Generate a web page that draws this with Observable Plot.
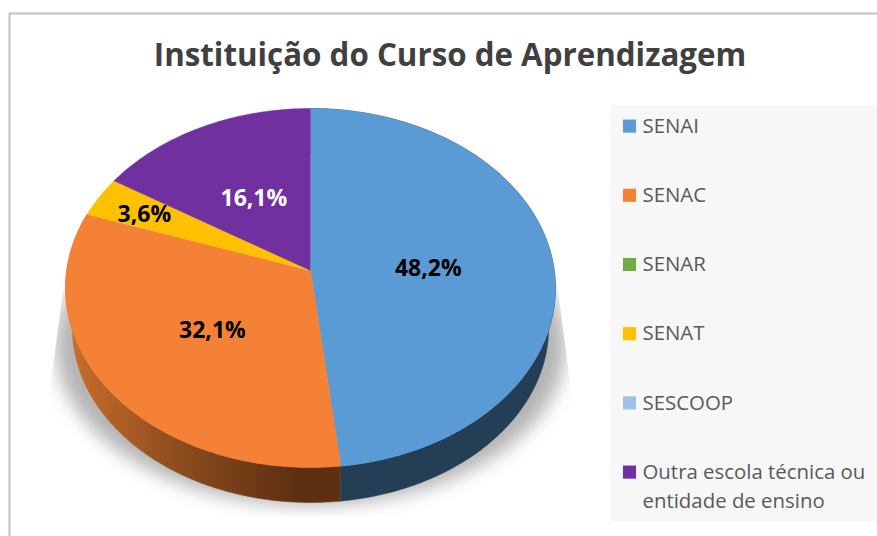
<!DOCTYPE html>
<html lang="pt">
<head>
<meta charset="utf-8">
<script src="https://cdn.jsdelivr.net/npm/d3@7"></script>
<script src="https://cdn.jsdelivr.net/npm/@observablehq/plot@0.6"></script>
<style>
html,body{margin:0;padding:0;background:#fff;overflow:hidden}
svg{display:block}
</style>
</head>
<body>
<script>
const titleText = "Instituição do Curso de Aprendizagem";
const categories = ["SENAI", "SENAC", "SENAR", "SENAT", "SESCOOP", "Outra escola técnica ou entidade de ensino"];
const values = [48.2, 32.1, 0, 3.6, 0, 16.1];
const colors = ["#5b9bd5", "#f48135", "#70ad47", "#ffc000", "#9dc3e6", "#7030a0"];
const labelColors = ["#000", "#000", "#000", "#000", "#000", "#fff"];
const labelRadii = [0.485, 0.5, 0.5, 0.78, 0.5, 0.5];

const W = 877, H = 536, cx = 310, cy = 270;
const A = 243.8, B = 177.8, P = 0.0975;
const total = d3.sum(values);
const toPt = (deg, r = 1, s = 1, dy = 0) => {
  const a = deg * Math.PI / 180, u = r * Math.sin(a), v = r * Math.cos(a), w = 1 + P * v;
  return {x: s * A * u / w, y: s * B * v / w - dy};
};
let acc = 0;
const slices = categories.map((name, i) => {
  const start = acc / total * 360; acc += values[i];
  return {name, value: values[i], start, end: acc / total * 360, i};
}).filter(d => d.value > 0);
const arc = (d, s = 1, dy = 0) => {
  const n = Math.ceil(d.end - d.start), pts = [];
  for (let k = 0; k <= n; k++) pts.push(toPt(d.start + (d.end - d.start) * k / n, 1, s, dy));
  return pts;
};
const faces = slices.flatMap(d => [{x: 0, y: 0}, ...arc(d)].map(p => ({...p, name: d.name})));
const rim = d => [...arc(d), ...arc(d, 0.972, 40.5).reverse()].map(p => ({...p, name: d.name}));
const shadow = d3.range(0, 361, 3).map(t => ({
  x: 255 * Math.sin(t * Math.PI / 180),
  y: -75 + 160 * Math.cos(t * Math.PI / 180)
}));
const labels = slices.map(d => {
  const p = toPt((d.start + d.end) / 2, labelRadii[d.i]);
  return {...p, text: d.value.toFixed(1).replace(".", ",") + "%", color: labelColors[d.i]};
});
const legendItems = categories.map((name, i) => ({
  name,
  x: 629 - cx,
  tx: 642 - cx,
  y: cy - (125.6 + i * 69.2),
  ty: cy - (123 + i * 69.2) - (i === 5 ? 14.5 : 0),
  text: name.replace(" ou ", " ou\n")
}));

const fontUI = "'Open Sans', 'Noto Sans', sans-serif";
const chart = Plot.plot({
  width: W, height: H, margin: 0,
  x: {axis: null, domain: [-cx, W - cx], range: [0, W]},
  y: {axis: null, domain: [cy, cy - H], range: [0, H]},
  color: {domain: categories, range: colors},
  style: {background: "#fff", fontFamily: fontUI},
  marks: [
    Plot.ruleX([9 - cx], {y1: cy - 13, y2: cy - H, stroke: "#bfbfbf", strokeWidth: 2}),
    Plot.ruleY([cy - 13], {x1: 9 - cx, x2: W - cx, stroke: "#bfbfbf", strokeWidth: 2}),
    Plot.line(shadow, {x: "x", y: "y", fill: "#b4b4b4", stroke: "none"}),
    Plot.line(rim(slices[0]), {x: "x", y: "y", fill: "#243f55", stroke: "#243f55", strokeWidth: 0.5}),
    Plot.line(rim(slices[1]), {x: "x", y: "y", fill: "url(#rimOrange)", stroke: "url(#rimOrange)", strokeWidth: 0.5}),
    Plot.line(faces, {x: "x", y: "y", z: "name", fill: "name", stroke: "name", strokeWidth: 0.5}),
    Plot.text(labels, {x: "x", y: "y", dy: 2.5, text: "text", fill: d => d.color, fontSize: 23, fontWeight: 700,
      fontFamily: fontUI, textAnchor: "middle"}),
    Plot.rect([0], {x1: 611 - cx, x2: W - cx, y1: cy - 105, y2: cy - 521, fill: "#f7f7f7"}),
    Plot.dot(legendItems, {x: "x", y: "y", symbol: "square", r: 7.4, fill: "name", stroke: "none"}),
    Plot.text(legendItems, {x: "tx", y: "ty", text: "text", textAnchor: "start", lineAnchor: "middle",
      fontSize: 20.4, lineHeight: 1.42, fill: "#595959", fontFamily: fontUI}),
    Plot.text([titleText], {x: 449.5 - cx, y: cy - 55, text: d => d, textAnchor: "middle", fontSize: 31.3,
      fontWeight: 700, fill: "#404040", fontFamily: fontUI})
  ]
});
const defs = document.createElementNS("http://www.w3.org/2000/svg", "defs");
defs.innerHTML = `
<linearGradient id="rimOrange" gradientUnits="userSpaceOnUse" x1="72" y1="0" x2="295" y2="0">
  <stop offset="0" stop-color="#c86d2a"/><stop offset="0.45" stop-color="#8f4e1f"/><stop offset="1" stop-color="#5e2f10"/>
</linearGradient>
<filter id="shadowBlur" filterUnits="userSpaceOnUse" x="0" y="200" width="640" height="336">
  <feGaussianBlur stdDeviation="9"/>
</filter>
<clipPath id="shadowClip"><polygon points="65,270 50,385 50,516 570,516 570,385 555,270"/></clipPath>`;
chart.insertBefore(defs, chart.firstChild);
const shadowG = chart.querySelector('g[fill="#b4b4b4"]');
if (shadowG) {
  shadowG.setAttribute("clip-path", "url(#shadowClip)");
  shadowG.querySelectorAll("path").forEach(p => p.setAttribute("filter", "url(#shadowBlur)"));
}
document.body.appendChild(chart);
</script>
</body>
</html>
